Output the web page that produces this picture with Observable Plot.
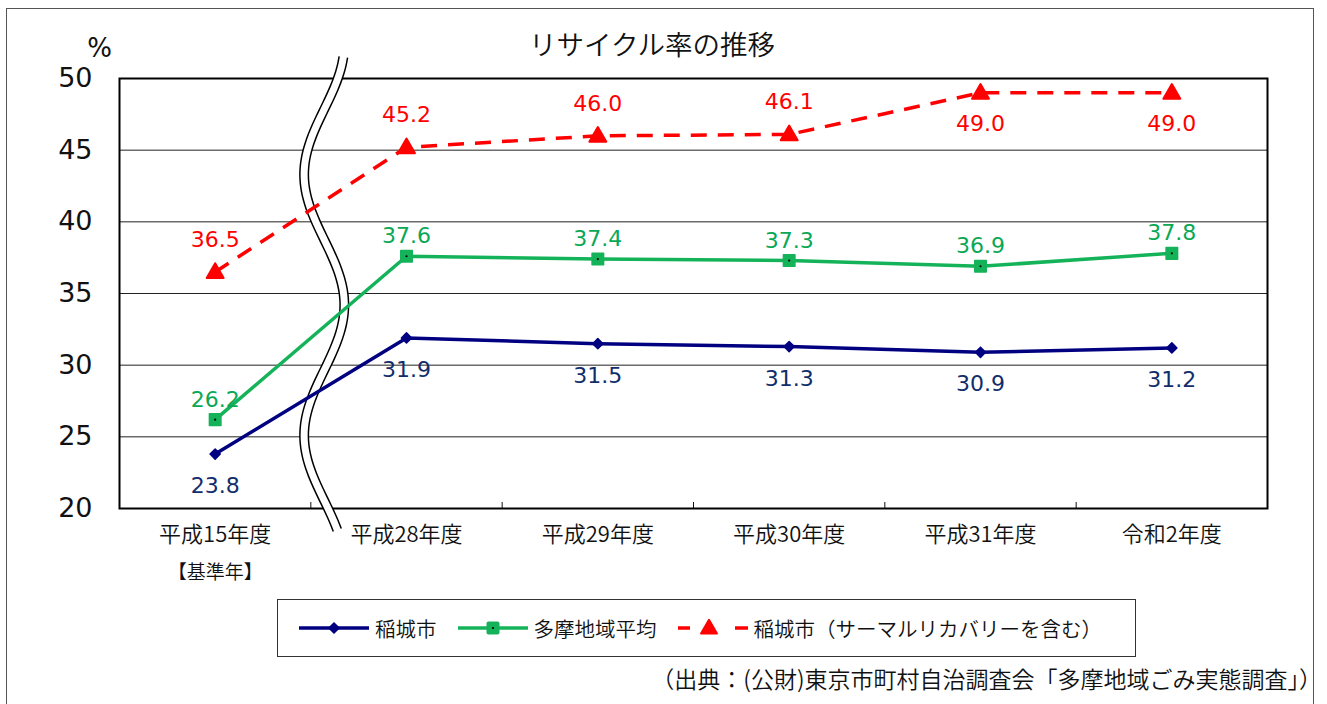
<!DOCTYPE html>
<html>
<head>
<meta charset="utf-8">
<script src="https://cdn.jsdelivr.net/npm/d3@7"></script>
<script src="https://cdn.jsdelivr.net/npm/@observablehq/plot@0.6"></script>
<style>
  html, body { margin: 0; padding: 0; background: #fff; }
  body { width: 1327px; height: 704px; position: relative; overflow: hidden; font-family: "Noto Sans CJK JP", sans-serif; font-weight: 350; }
  #border { position: absolute; left: 6px; top: 8px; width: 1308px; height: 740px; border: 1px solid #555; box-sizing: border-box; }
  #title { position: absolute; left: 0; width: 1304px; top: 30px; text-align: center; font-size: 27.5px; color: #111; line-height: 1; }
  #chart { position: absolute; left: 0; top: 0; }
  #legend { position: absolute; left: 277px; top: 599px; width: 859px; height: 58px; border: 1px solid #333; box-sizing: border-box; display: flex; align-items: center; padding-left: 21px; font-size: 20.5px; color: #111; }
  .item { display: flex; align-items: center; margin-right: 21px; }
  .item svg { margin-right: 6px; }
  #source { position: absolute; right: 5px; top: 665px; font-size: 23px; color: #111; line-height: 1.2; }
</style>
</head>
<body>
<div id="border"></div>
<div id="title"></div>
<div id="chart"></div>
<div id="legend"></div>
<div id="source"></div>
<script>
const titleText = "リサイクル率の推移";
const unitLabel = "%";
const categories = ["平成15年度", "平成28年度", "平成29年度", "平成30年度", "平成31年度", "令和2年度"];
const baseYearLabel = "【基準年】";
const yTicks = [20, 25, 30, 35, 40, 45, 50];
const seriesNames = ["稲城市", "多摩地域平均", "稲城市（サーマルリカバリーを含む）"];
const inagi = [23.8, 31.9, 31.5, 31.3, 30.9, 31.2];
const tamaAvg = [26.2, 37.6, 37.4, 37.3, 36.9, 37.8];
const inagiThermal = [36.5, 45.2, 46.0, 46.1, 49.0, 49.0];
const sourceText = "（出典：(公財)東京市町村自治調査会「多摩地域ごみ実態調査」）";

const colNavy = "#000080", colNavyText = "#112d6b";
const colGreen = "#14b35a", colGreenText = "#0aa855";
const colRed = "#ff0000";
const numFont = "'DejaVu Sans', sans-serif";
const cjkFont = "'Noto Sans CJK JP', sans-serif";

document.getElementById("title").textContent = titleText;
document.getElementById("source").textContent = sourceText;

const rows = (vals, s) => vals.map((v, i) => ({x: i, y: v, s}));
const dNavy = rows(inagi, seriesNames[0]);
const dGreen = rows(tamaAvg, seriesNames[1]);
const dRed = rows(inagiThermal, seriesNames[2]);

// axis-break decoration (wavy double line) between the base year and the rest
const breakPts = d3.range(0, 61).map(k => {
  const y = 18.5 + k * (51.5 - 18.5) / 60;
  return {x: 0.57 + 0.105 * Math.cos(2 * Math.PI * (y - 34.2) / 18.2), y};
});
const boundaries = d3.range(1, categories.length).map(i => i - 0.5);
const yMin = d3.min(yTicks), yMax = d3.max(yTicks);
const num = {fontFamily: numFont, fontWeight: 400, fontSize: 22};

const plot = Plot.plot({
  width: 1327,
  height: 600,
  marginLeft: 119,
  marginRight: 60,
  marginTop: 78,
  marginBottom: 92,
  style: {fontFamily: cjkFont, fontWeight: 350, background: "transparent", overflow: "visible"},
  x: {type: "linear", domain: [-0.5, categories.length - 0.5], axis: null},
  y: {domain: [yMin, yMax], axis: null},
  marks: [
    Plot.gridY(yTicks.slice(1, -1), {stroke: "#222", strokeOpacity: 1, strokeWidth: 1}),
    Plot.axisY(yTicks, {tickSize: 0, tickPadding: 27, fontSize: 27, fill: "#111", fontFamily: numFont, fontWeight: 400, label: null}),
    Plot.text([unitLabel], {frameAnchor: "top-left", lineAnchor: "middle", dx: -20, dy: -30, fontSize: 26, fill: "#111", textAnchor: "middle", fontFamily: numFont, fontWeight: 400}),
    Plot.axisX(categories.map((c, i) => i), {tickSize: 0, tickPadding: 18, tickFormat: i => categories[i], fontSize: 22, fill: "#111", label: null}),
    Plot.text([baseYearLabel], {x: 0, frameAnchor: "bottom", lineAnchor: "middle", dy: 64, fontSize: 19, fill: "#111"}),
    Plot.ruleX(boundaries, {y1: yMin, y2: yMin + 0.42, stroke: "#111"}),
    Plot.frame({stroke: "#000", strokeWidth: 2}),
    Plot.line(breakPts, {x: "x", y: "y", stroke: "#000", strokeWidth: 10, curve: "natural", strokeLinecap: "butt", clip: false}),
    Plot.line(breakPts, {x: "x", y: "y", stroke: "#fff", strokeWidth: 7, curve: "natural", strokeLinecap: "square", clip: false}),
    Plot.line(dNavy, {x: "x", y: "y", stroke: colNavy, strokeWidth: 3.5}),
    Plot.line(dGreen, {x: "x", y: "y", stroke: colGreen, strokeWidth: 3.5}),
    Plot.line(dRed, {x: "x", y: "y", stroke: colRed, strokeWidth: 3.5, strokeDasharray: "16,11", strokeLinecap: "butt"}),
    Plot.dot(dNavy, {x: "x", y: "y", symbol: "diamond2", r: 4.6, fill: colNavy, stroke: colNavy, strokeWidth: 1.5, strokeLinejoin: "round"}),
    Plot.dot(dGreen, {x: "x", y: "y", symbol: "square", r: 6.5, fill: colGreen, stroke: colGreen, strokeWidth: 1.5, strokeLinejoin: "round"}),
    Plot.dot(dGreen, {x: "x", y: "y", r: 1.1, fill: "#000"}),
    Plot.dot(dRed, {x: "x", y: "y", symbol: "triangle", r: 6.3, fill: colRed, stroke: colRed, strokeWidth: 2, strokeLinejoin: "round", dy: 1}),
    Plot.text(dNavy, {x: "x", y: "y", text: d => d.y.toFixed(1), dy: 32, fill: colNavyText, ...num}),
    Plot.text(dGreen, {x: "x", y: "y", text: d => d.y.toFixed(1), dy: -20, fill: colGreenText, ...num}),
    Plot.text(dRed.filter(d => d.y < yMax - 2), {x: "x", y: "y", text: d => d.y.toFixed(1), dy: -32, fill: colRed, ...num}),
    Plot.text(dRed.filter(d => d.y >= yMax - 2), {x: "x", y: "y", text: d => d.y.toFixed(1), dy: 31, fill: colRed, ...num})
  ]
});
document.getElementById("chart").appendChild(plot);

// legend
const legend = document.getElementById("legend");
const swatches = [
  {color: colNavy, dashed: false, marker: "diamond"},
  {color: colGreen, dashed: false, marker: "square"},
  {color: colRed, dashed: true, marker: "triangle"}
];
seriesNames.forEach((name, i) => {
  const sw = swatches[i];
  const item = document.createElement("div");
  item.className = "item";
  const svg = d3.create("svg").attr("width", 70).attr("height", 20);
  if (sw.dashed) {
    [[0, 12], [57, 70]].forEach(([a, b]) =>
      svg.append("line").attr("x1", a).attr("x2", b).attr("y1", 10).attr("y2", 10).attr("stroke", sw.color).attr("stroke-width", 3.5));
  } else {
    svg.append("line").attr("x1", 0).attr("x2", 70).attr("y1", 10).attr("y2", 10).attr("stroke", sw.color).attr("stroke-width", 3.5);
  }
  if (sw.marker === "diamond") {
    svg.append("path").attr("d", d3.symbol(d3.symbolDiamond2, 66)()).attr("transform", "translate(35,10)").attr("fill", sw.color).attr("stroke", sw.color).attr("stroke-width", 1.5).attr("stroke-linejoin", "round");
  } else if (sw.marker === "square") {
    svg.append("rect").attr("x", 28.5).attr("y", 3.5).attr("width", 13).attr("height", 13).attr("rx", 2).attr("fill", sw.color);
    svg.append("circle").attr("cx", 35).attr("cy", 10).attr("r", 1.1).attr("fill", "#000");
  } else {
    svg.append("path").attr("d", d3.symbol(d3.symbolTriangle, 110)()).attr("transform", "translate(31,11)").attr("fill", sw.color).attr("stroke", sw.color).attr("stroke-width", 2).attr("stroke-linejoin", "round");
  }
  item.appendChild(svg.node());
  const t = document.createElement("span");
  t.textContent = name;
  item.appendChild(t);
  legend.appendChild(item);
});
</script>
</body>
</html>
